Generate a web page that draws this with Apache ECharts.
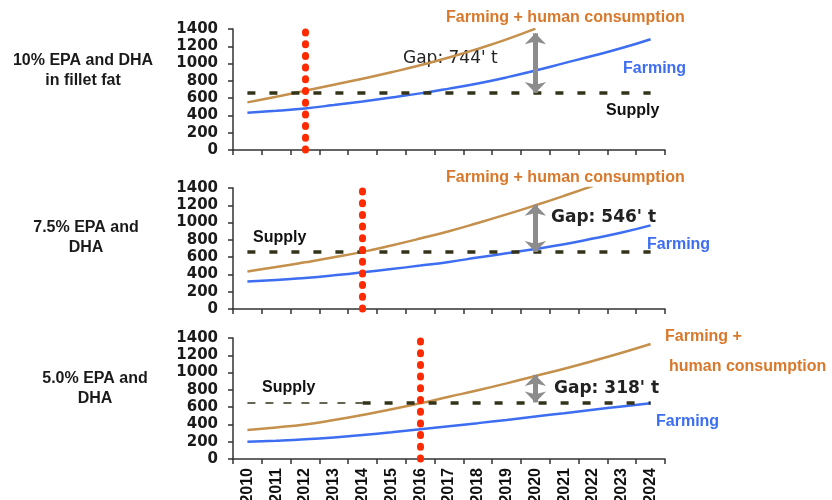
<!DOCTYPE html>
<html>
<head>
<meta charset="utf-8">
<script src="https://cdn.jsdelivr.net/npm/echarts@6/dist/echarts.min.js"></script>
<style>
  html, body { margin: 0; padding: 0; background: #fff; }
  #chart { width: 832px; height: 500px; }
</style>
</head>
<body>
<div id="chart"></div>
<script>
// x categories
const years = ["2010", "2011", "2012", "2013", "2014", "2015", "2016", "2017",
  "2018", "2019", "2020", "2021", "2022", "2023", "2024"];

// 10% EPA and DHA in fillet fat
const farming10 = [431, 455, 481, 520, 562, 607, 655, 710, 770, 840, 920, 1005, 1090, 1180, 1282];
const human10 = [551, 615, 685, 755, 825, 900, 980, 1070, 1170, 1280, 1404, null, null, null, null];
// 7.5% EPA and DHA
const farming75 = [319, 335, 360, 390, 424, 462, 502, 545, 595, 645, 695, 750, 815, 885, 968];
const human75 = [435, 485, 540, 598, 661, 735, 815, 900, 995, 1095, 1200, 1310, 1425, null, null];
// 5.0% EPA and DHA
const farming50 = [200, 212, 228, 250, 278, 310, 345, 380, 415, 452, 492, 530, 570, 608, 645];
const human50 = [336, 365, 400, 450, 509, 575, 645, 720, 795, 875, 960, 1045, 1135, 1230, 1331];

const supply = [660, 660, 655];
const gaps = [744, 546, 318];
const gapYear = "2020";
const cutoffYears = ["2012", "2014", "2016"];
const yMin = 0;
const yMax = 1400;
const yStep = 200;

const BLUE = "#3d6ef2";
const TAN = "#c4904c";
const ORANGE = "#d9782a";
const ARIAL = '"Liberation Sans", Arial, sans-serif';

const panels = [
  { farming: farming10, human: human10, top: 29 },
  { farming: farming75, human: human75, top: 188 },
  { farming: farming50, human: human50, top: 338 },
];

function markLines(i) {
  const s = supply[i];
  const data = [];
  const supplyStyle = { color: "#33331a", width: 3.5, type: [8, 14] };
  if (i === 2) {
    data.push([
      { coord: ["2010", s], symbol: "none", lineStyle: { color: "#33331a", width: 1.5, type: [8, 10] } },
      { coord: ["2014", s], symbol: "none" },
    ]);
    data.push([
      { coord: ["2014", s], symbol: "none", lineStyle: supplyStyle },
      { coord: ["2024", s], symbol: "none" },
    ]);
  } else {
    data.push([
      { coord: ["2010", s], symbol: "none", lineStyle: supplyStyle },
      { coord: ["2024", s], symbol: "none" },
    ]);
  }
  data.push([
    {
      coord: [cutoffYears[i], yMin],
      symbol: "none",
      lineStyle: { color: "#ff2a00", width: 7, type: [1, 10.7], cap: "round" },
    },
    { coord: [cutoffYears[i], yMax], symbol: "none" },
  ]);
  // the top of the arrow can't go past the axis max, or the mark is dropped
  const top = Math.min(s + gaps[i], yMax - 50);
  data.push([
    {
      coord: [gapYear, s],
      symbol: "arrow",
      symbolSize: [16, 11],
      lineStyle: { color: "#8c8c8c", width: 5, type: "solid" },
      itemStyle: { color: "#8c8c8c" },
    },
    { coord: [gapYear, top], symbol: "arrow", symbolSize: [16, 11], itemStyle: { color: "#8c8c8c" } },
  ]);
  return {
    silent: true,
    animation: false,
    label: { show: false },
    data: data,
  };
}

function txt(text, x, y, color, font, align) {
  return {
    type: "text",
    x: x,
    y: y,
    silent: true,
    style: {
      text: text,
      fill: color,
      font: font,
      align: align || "left",
      verticalAlign: "middle",
      lineHeight: 20,
    },
  };
}

function createOpts() {
  const grid = [];
  const xAxis = [];
  const yAxis = [];
  const series = [];
  panels.forEach((p, i) => {
    grid.push({ left: 233, width: 432, top: p.top, height: 121, outerBoundsMode: "none", containLabel: false });
    xAxis.push({
      type: "category",
      gridIndex: i,
      data: years,
      boundaryGap: true,
      axisLine: { lineStyle: { color: "#333", width: 1.5 } },
      axisTick: { show: true, interval: 0, length: 5, lineStyle: { color: "#333", width: 1.5 } },
      axisLabel: {
        show: i === 2,
        interval: 0,
        rotate: 90,
        margin: 9,
        color: "#111",
        fontFamily: ARIAL,
        fontWeight: "bold",
        fontSize: 16,
      },
      splitLine: { show: false },
    });
    yAxis.push({
      type: "value",
      gridIndex: i,
      min: yMin,
      max: yMax,
      interval: yStep,
      axisLine: { show: true, lineStyle: { color: "#333", width: 1.5 } },
      axisTick: { show: true, length: 5, lineStyle: { color: "#333", width: 1.5 } },
      axisLabel: {
        margin: 15,
        color: "#1a1a1a",
        fontFamily: '"DejaVu Sans", sans-serif',
        fontWeight: "bold",
        fontSize: 15,
        formatter: (v) => String(v),
      },
      splitLine: { show: false },
    });
    series.push({
      name: "Farming",
      type: "line",
      xAxisIndex: i,
      yAxisIndex: i,
      data: p.farming,
      smooth: true,
      showSymbol: false,
      color: BLUE,
      lineStyle: { width: 2.5, color: BLUE },
      z: 2,
    });
    series.push({
      name: "Farming + human consumption",
      type: "line",
      xAxisIndex: i,
      yAxisIndex: i,
      data: p.human,
      smooth: true,
      showSymbol: false,
      color: TAN,
      lineStyle: { width: 2.5, color: TAN },
      z: 3,
      markLine: markLines(i),
    });
  });

  const bold16 = "bold 16px " + ARIAL;
  const gapFont = 'bold 17px "DejaVu Sans", sans-serif';
  const graphic = [
    txt("10% EPA and DHA\nin fillet fat", 83, 71, "#1a1a1a", bold16, "center"),
    txt("Farming + human consumption", 446, 18, ORANGE, bold16),
    txt("Gap: 744' t", 403, 59, "#222", '17px "DejaVu Sans", sans-serif'),
    txt("Farming", 623, 69, BLUE, bold16),
    txt("Supply", 606, 111, "#111", bold16),

    txt("7.5% EPA and\nDHA", 86, 238, "#1a1a1a", bold16, "center"),
    txt("Farming + human consumption", 446, 178, ORANGE, bold16),
    txt("Gap: 546' t", 551, 218, "#222", gapFont),
    txt("Farming", 647, 245, BLUE, bold16),
    txt("Supply", 253, 238, "#111", bold16),

    txt("5.0% EPA and\nDHA", 95, 389, "#1a1a1a", bold16, "center"),
    txt("Farming +", 665, 337, ORANGE, bold16),
    txt("human consumption", 669, 367, ORANGE, bold16),
    txt("Gap: 318' t", 554, 389, "#222", gapFont),
    txt("Farming", 656, 422, BLUE, bold16),
    txt("Supply", 262, 388, "#111", bold16),
  ];

  return {
    backgroundColor: "#fff",
    animation: false,
    grid: grid,
    xAxis: xAxis,
    yAxis: yAxis,
    series: series,
    graphic: graphic,
  };
}

const chart = echarts.init(document.getElementById("chart"));
chart.setOption(createOpts());
</script>
</body>
</html>
